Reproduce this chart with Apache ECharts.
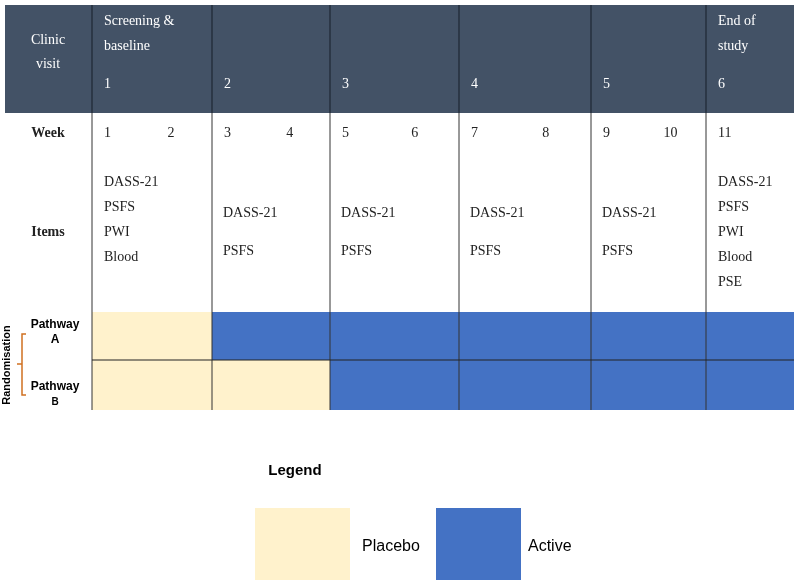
<!DOCTYPE html>
<html><head><meta charset="utf-8">
<script src="https://cdn.jsdelivr.net/npm/echarts@6/dist/echarts.min.js"></script>
<style>html,body{margin:0;padding:0;background:#fff}#c{width:794px;height:582px}</style>
</head><body><div id="c"></div>
<script>
// ---- data ----
const visitTitles = [["Screening &","baseline"],[],[],[],[],["End of","study"]];
const visitNumbers = ["1","2","3","4","5","6"];
const weeks = [["1","2"],["3","4"],["5","6"],["7","8"],["9","10"],["11"]];
const items = [
  ["DASS-21","PSFS","PWI","Blood"],
  ["DASS-21","PSFS"],["DASS-21","PSFS"],["DASS-21","PSFS"],["DASS-21","PSFS"],
  ["DASS-21","PSFS","PWI","Blood","PSE"]
];
const pathwayA = ["Placebo","Active","Active","Active","Active","Active"];
const pathwayB = ["Placebo","Placebo","Active","Active","Active","Active"];
const legendItems = ["Placebo","Active"];

// ---- layout / style ----
const edges = [92,212,330,459,591,706,794];
const colors = {Placebo:"#FFF2CC", Active:"#4472C4"};
const serif = "'Liberation Serif','DejaVu Serif',serif";
const sans = "'Liberation Sans','Open Sans',sans-serif";
const g = [];
function txt(x,y,t,o){g.push(Object.assign({type:'text',x:x,y:y,style:Object.assign({text:t,fill:'#222',font:'14px '+serif,textVerticalAlign:'middle'},o||{})}));}
function rect(x,y,w,h,fill,z){g.push({type:'rect',shape:{x:x,y:y,width:w,height:h},style:{fill:fill},z:z||0});}
function line(x1,y1,x2,y2,c,w){g.push({type:'line',shape:{x1,y1,x2,y2},style:{stroke:c,lineWidth:w||1},z:5});}

rect(5,5,789,108,'#435266');
txt(48,40,'Clinic',{fill:'#fff',textAlign:'center'});
txt(48,64,'visit',{fill:'#fff',textAlign:'center'});
txt(48,133,'Week',{font:'bold 14px '+serif,textAlign:'center'});
txt(48,232,'Items',{font:'bold 14px '+serif,textAlign:'center'});
for(let i=0;i<6;i++){
  const x=edges[i]+12, w=edges[i+1]-edges[i];
  visitTitles[i].forEach((t,j)=>txt(x,21+25*j,t,{fill:'#fff'}));
  txt(x,84,visitNumbers[i],{fill:'#fff'});
  weeks[i].forEach((t,j)=>txt(j?edges[i]+w*0.63:x,133,t));
  const its=items[i];
  if(its.length===2){txt(x-1,213,its[0]);txt(x-1,251,its[1]);}
  else its.forEach((t,j)=>txt(x,182+25*j,t));
  rect(edges[i],312,w,48,colors[pathwayA[i]],1);
  rect(edges[i],360,w,50,colors[pathwayB[i]],1);
}
for(let i=0;i<edges.length-1;i++){
  line(edges[i],5,edges[i],113,'#1e2733',1.2);
  if(i>0) line(edges[i],113,edges[i],410,'#333',1);
}
line(92,113,92,410,'#333',1);
line(92,360,794,360,'#222',1);
txt(55,325,'Pathway',{font:'bold 12px '+sans,textAlign:'center',fill:'#000'});
txt(55,340,'A',{font:'bold 12px '+sans,textAlign:'center',fill:'#000'});
txt(55,387,'Pathway',{font:'bold 12px '+sans,textAlign:'center',fill:'#000'});
txt(55,402,'B',{font:'bold 10px '+sans,textAlign:'center',fill:'#000'});
g.push({type:'text',x:7,y:365,rotation:Math.PI/2,style:{text:'Randomisation',font:'bold 11px '+sans,fill:'#000',textAlign:'center',textVerticalAlign:'middle'}});
g.push({type:'polyline',shape:{points:[[26,334],[22,334],[22,395],[26,395]]},style:{stroke:'#d07020',lineWidth:1.5,fill:null}});
line(17,364,22,364,'#d07020',1.5);
txt(295,471,'Legend',{font:'bold 15px '+sans,textAlign:'center',fill:'#000'});
rect(255,508,95,72,colors[legendItems[0]]);
txt(362,547,legendItems[0],{font:'16px '+sans,fill:'#000'});
rect(436,508,85,72,colors[legendItems[1]]);
txt(528,547,legendItems[1],{font:'16px '+sans,fill:'#000'});

const chart=echarts.init(document.getElementById('c'));
chart.setOption({animation:false,graphic:{elements:g}});
</script></body></html>
